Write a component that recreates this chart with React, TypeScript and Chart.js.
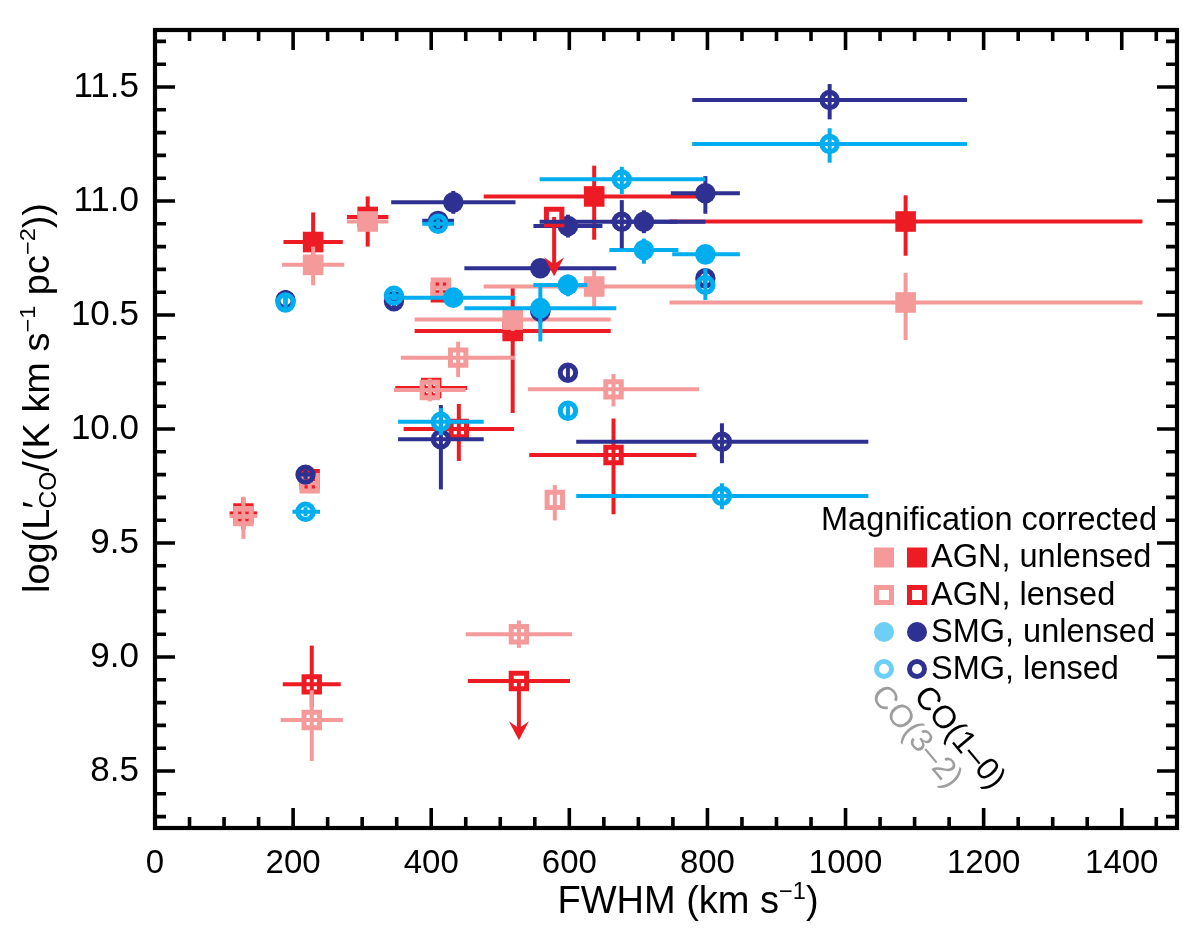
import React, { useEffect, useRef } from 'react';
import { Chart, registerables } from 'chart.js';

Chart.register(...registerables);

const FONT = "'Liberation Sans', Arial, Helvetica, sans-serif";

const X_MIN = 0;
const X_MAX = 1480;
const Y_MIN = 8.25;
const Y_MAX = 11.75;
const X_TICKS = [0, 200, 400, 600, 800, 1000, 1200, 1400];
const Y_TICKS = [8.5, 9.0, 9.5, 10.0, 10.5, 11.0, 11.5];

const RED = '#ED1C24';
const PINK = '#F49A9A';
const DARK = '#2E3192';
const LIGHT = '#00AEEF';
const LIGHT_LEGEND = '#6DCFF6';

// AGN, unlensed, CO(1-0)
const agnU10X = [229, 308, 518, 636, 1087];
const agnU10Y = [10.82, 10.93, 10.43, 11.02, 10.91];
const agnU10XLo = [43, 30, 142, 160, 342];
const agnU10XHi = [43, 30, 142, 155, 343];
const agnU10YLo = [0.13, 0.13, 0.36, 0.19, 0.15];
const agnU10YHi = [0.13, 0.09, 0.19, 0.135, 0.115];

// AGN, unlensed, CO(3-2)
const agnU32X = [229, 308, 518, 636, 1087];
const agnU32Y = [10.72, 10.91, 10.48, 10.625, 10.555];
const agnU32XLo = [45, 30, 142, 160, 342];
const agnU32XHi = [45, 30, 142, 157, 343];
const agnU32YLo = [0.09, 0.04, 0.05, 0.09, 0.165];
const agnU32YHi = [0.08, 0.04, 0.05, 0.07, 0.13];

// AGN, lensed, CO(1-0)  (lim = upper limit)
const agnL10X = [128, 224, 227, 400, 414, 440, 578, 527, 664];
const agnL10Y = [9.63, 9.78, 8.88, 10.18, 10.6, 10.0, 10.93, 8.895, 9.886];
const agnL10XLo = [20, 12, 42, 52, 10, 80, 0, 74, 122];
const agnL10XHi = [20, 12, 42, 52, 10, 80, 0, 74, 120];
const agnL10YLo = [0.07, 0.03, 0.1, 0.03, 0.03, 0.14, 0.26, 0.26, 0.26];
const agnL10YHi = [0.07, 0.03, 0.17, 0.03, 0.03, 0.11, 0, 0, 0.16];
const agnL10Lim = [0, 0, 0, 0, 0, 0, 1, 1, 0];

// AGN, lensed, CO(3-2)
const agnL32X = [128, 224, 227, 398, 414, 439, 527, 579, 664];
const agnL32Y = [9.618, 9.762, 8.724, 10.171, 10.62, 10.313, 9.1, 9.689, 10.174];
const agnL32XLo = [20, 12, 45, 52, 10, 83, 77, 0, 124];
const agnL32XHi = [20, 12, 45, 52, 10, 83, 77, 0, 124];
const agnL32YLo = [0.1, 0.03, 0.18, 0.05, 0.04, 0.085, 0.06, 0.09, 0.075];
const agnL32YHi = [0.085, 0.03, 0.13, 0.05, 0.04, 0.07, 0.06, 0.065, 0.067];

// SMG, unlensed, CO(1-0)
const smgU10X = [432, 558, 558, 598, 708, 797];
const smgU10Y = [10.994, 10.705, 10.515, 10.89, 10.909, 11.034];
const smgU10XLo = [90, 110, 0, 50, 48, 50];
const smgU10XHi = [90, 110, 0, 50, 48, 50];
const smgU10YLo = [0.05, 0.04, 0.05, 0.05, 0.05, 0.09];
const smgU10YHi = [0.05, 0.04, 0.03, 0.05, 0.05, 0.075];

// SMG, unlensed, CO(3-2)
const smgU32X = [432, 558, 598, 708, 797];
const smgU32Y = [10.576, 10.53, 10.632, 10.785, 10.766];
const smgU32XLo = [97, 110, 50, 50, 48];
const smgU32XHi = [90, 110, 28, 50, 50];
const smgU32YLo = [0.04, 0.146, 0.05, 0.06, 0.03];
const smgU32YHi = [0.04, 0.11, 0.045, 0.05, 0.03];

// SMG, lensed, CO(1-0)
const smgL10X = [189, 218, 346, 410, 414, 598, 676, 797, 821, 977];
const smgL10Y = [10.565, 9.8, 10.56, 10.913, 9.955, 10.247, 10.909, 10.661, 9.944, 11.443];
const smgL10XLo = [0, 12, 10, 23, 62, 0, 119, 0, 211, 199];
const smgL10XHi = [0, 12, 10, 23, 62, 0, 121, 0, 212, 199];
const smgL10YLo = [0.045, 0.02, 0.03, 0.03, 0.22, 0.04, 0.116, 0.04, 0.094, 0.085];
const smgL10YHi = [0.045, 0.02, 0.03, 0.03, 0.15, 0.04, 0.095, 0.04, 0.081, 0.07];

// SMG, lensed, CO(3-2)
const smgL32X = [189, 218, 346, 410, 414, 598, 676, 797, 821, 977];
const smgL32Y = [10.555, 9.637, 10.585, 10.9, 10.032, 10.08, 11.095, 10.632, 9.706, 11.25];
const smgL32XLo = [0, 19, 10, 23, 62, 0, 119, 0, 211, 199];
const smgL32XHi = [0, 21, 10, 23, 62, 0, 121, 0, 212, 199];
const smgL32YLo = [0.03, 0.02, 0.02, 0.02, 0.06, 0.03, 0.065, 0.066, 0.058, 0.082];
const smgL32YHi = [0.03, 0.02, 0.02, 0.02, 0.06, 0.03, 0.055, 0.073, 0.056, 0.069];

const LEGEND_TITLE = 'Magnification corrected';
const LEGEND_ROWS = ['AGN, unlensed', 'AGN, lensed', 'SMG, unlensed', 'SMG, lensed'];
const CO10_LABEL = 'CO(1–0)';
const CO32_LABEL = 'CO(3–2)';

function pts(x: number[], y: number[], xlo: number[], xhi: number[], ylo: number[], yhi: number[], lim?: number[]) {
  return x.map((v, i) => ({ x: v, y: y[i], xlo: xlo[i], xhi: xhi[i], ylo: ylo[i], yhi: yhi[i], lim: lim ? lim[i] : 0 }));
}

function series(label: string, data: any[], color: string, shape: 'rect' | 'circle', filled: boolean, drawIndex: number) {
  let radius: number;
  if (shape === 'rect') radius = filled ? 10.3 / Math.SQRT1_2 : 7.7 / Math.SQRT1_2;
  else radius = filled ? 10.3 : 7.7;
  return {
    label,
    data,
    errColor: color,
    order: -drawIndex,
    showLine: false,
    pointStyle: shape,
    pointRadius: radius,
    pointHoverRadius: radius,
    pointBorderWidth: filled ? 0 : 5,
    pointBackgroundColor: filled ? color : 'rgba(0,0,0,0)',
    pointBorderColor: color,
    backgroundColor: filled ? color : 'rgba(0,0,0,0)',
    borderColor: color,
  };
}

const errorBarPlugin = {
  id: 'errorBars',
  beforeDatasetDraw(chart: any, args: any) {
    const ds = chart.data.datasets[args.index];
    const ctx = chart.ctx;
    const xs = chart.scales.x;
    const ys = chart.scales.y;
    ctx.save();
    ctx.strokeStyle = ds.errColor;
    ctx.fillStyle = ds.errColor;
    ctx.lineWidth = 4;
    ctx.lineCap = 'butt';
    ds.data.forEach((p: any) => {
      const px = xs.getPixelForValue(p.x);
      const py = ys.getPixelForValue(p.y);
      if (p.xlo || p.xhi) {
        ctx.beginPath();
        ctx.moveTo(xs.getPixelForValue(p.x - p.xlo), py);
        ctx.lineTo(xs.getPixelForValue(p.x + p.xhi), py);
        ctx.stroke();
      }
      if (p.lim) {
        const tip = ys.getPixelForValue(p.y - p.ylo);
        ctx.beginPath();
        ctx.moveTo(px, py);
        ctx.lineTo(px, tip - 10);
        ctx.stroke();
        ctx.beginPath();
        ctx.moveTo(px, tip);
        ctx.lineTo(px - 10, tip - 19);
        ctx.lineTo(px, tip - 12);
        ctx.lineTo(px + 10, tip - 19);
        ctx.closePath();
        ctx.fill();
      } else if (p.ylo || p.yhi) {
        ctx.beginPath();
        ctx.moveTo(px, ys.getPixelForValue(p.y - p.ylo));
        ctx.lineTo(px, ys.getPixelForValue(p.y + p.yhi));
        ctx.stroke();
      }
    });
    ctx.restore();
  },
};

type Seg = { t: string; s?: number; dy?: number; noAdv?: boolean };

function drawRich(
  ctx: CanvasRenderingContext2D,
  segs: Seg[],
  x: number,
  y: number,
  F: number,
  align: 'left' | 'center' | 'right',
  fitWidth?: number
) {
  const widths = segs.map((sg) => {
    ctx.font = `${F * (sg.s || 1)}px ${FONT}`;
    return sg.noAdv ? 0 : ctx.measureText(sg.t).width;
  });
  const total = widths.reduce((a, b) => a + b, 0);
  const sx = fitWidth ? fitWidth / total : 1;
  ctx.save();
  ctx.translate(x, y);
  ctx.scale(sx, 1);
  let cx = align === 'left' ? 0 : align === 'center' ? -total / 2 : -total;
  ctx.textAlign = 'left';
  ctx.textBaseline = 'alphabetic';
  segs.forEach((sg, i) => {
    ctx.font = `${F * (sg.s || 1)}px ${FONT}`;
    ctx.fillText(sg.t, cx, (sg.dy || 0) * F);
    cx += widths[i];
  });
  ctx.restore();
}

function drawMarker(ctx: CanvasRenderingContext2D, x: number, y: number, shape: string, filled: boolean, color: string) {
  ctx.save();
  ctx.fillStyle = color;
  ctx.strokeStyle = color;
  ctx.lineWidth = 5;
  if (shape === 'rect') {
    if (filled) ctx.fillRect(x - 10, y - 10, 20, 20);
    else ctx.strokeRect(x - 7.5, y - 7.5, 15, 15);
  } else {
    ctx.beginPath();
    ctx.arc(x, y, filled ? 10 : 7.5, 0, Math.PI * 2);
    if (filled) ctx.fill();
    else ctx.stroke();
  }
  ctx.restore();
}

const framePlugin = {
  id: 'frame',
  afterDraw(chart: any) {
    const ctx = chart.ctx as CanvasRenderingContext2D;
    const { left, right, top, bottom } = chart.chartArea;
    const xs = chart.scales.x;
    const ys = chart.scales.y;
    ctx.save();
    ctx.strokeStyle = '#000';
    ctx.lineWidth = 3.6;
    ctx.lineCap = 'butt';
    for (let v = 0; v <= 1450; v += 50) {
      const px = xs.getPixelForValue(v);
      const len = v % 200 === 0 ? 20 : 11;
      ctx.beginPath();
      ctx.moveTo(px, bottom);
      ctx.lineTo(px, bottom - len);
      ctx.moveTo(px, top);
      ctx.lineTo(px, top + len);
      ctx.stroke();
    }
    for (let k = 83; k <= 117; k++) {
      const v = k / 10;
      const py = ys.getPixelForValue(v);
      const len = k % 5 === 0 ? 20 : 11;
      ctx.beginPath();
      ctx.moveTo(left, py);
      ctx.lineTo(left + len, py);
      ctx.moveTo(right, py);
      ctx.lineTo(right - len, py);
      ctx.stroke();
    }
    ctx.lineWidth = 4.2;
    ctx.strokeRect(left, top, right - left, bottom - top);

    // axis titles
    ctx.fillStyle = '#000';
    drawRich(ctx, [{ t: 'FWHM (km s' }, { t: '−1', s: 0.62, dy: -0.38 }, { t: ')' }], 688, 913, 38, 'center');
    ctx.save();
    ctx.translate(49, 398);
    ctx.rotate(-Math.PI / 2);
    drawRich(
      ctx,
      [
        { t: 'log(L' },
        { t: '′', noAdv: true },
        { t: 'CO', s: 0.65, dy: 0.2 },
        { t: '/(K km s' },
        { t: '−1', s: 0.62, dy: -0.38 },
        { t: ' pc' },
        { t: '−2', s: 0.62, dy: -0.38 },
        { t: '))' },
      ],
      0,
      0,
      36,
      'center',
      390
    );
    ctx.restore();

    // legend
    ctx.fillStyle = '#000';
    ctx.font = `32.5px ${FONT}`;
    ctx.textAlign = 'right';
    ctx.textBaseline = 'alphabetic';
    ctx.fillText(LEGEND_TITLE, 1157, 530);
    const rowY = [557.5, 595, 632, 669];
    const specs = [
      { shape: 'rect', filled: true, c1: PINK, c2: RED },
      { shape: 'rect', filled: false, c1: PINK, c2: RED },
      { shape: 'circle', filled: true, c1: LIGHT_LEGEND, c2: DARK },
      { shape: 'circle', filled: false, c1: LIGHT_LEGEND, c2: DARK },
    ];
    specs.forEach((sp, i) => {
      drawMarker(ctx, 884, rowY[i], sp.shape, sp.filled, sp.c1);
      drawMarker(ctx, 917, rowY[i], sp.shape, sp.filled, sp.c2);
      ctx.fillStyle = '#000';
      ctx.font = `32.5px ${FONT}`;
      ctx.textAlign = 'left';
      ctx.textBaseline = 'middle';
      ctx.fillText(LEGEND_ROWS[i], 931, rowY[i] + 1);
    });

    // CO line labels (rotated)
    const ang = (50 * Math.PI) / 180;
    ctx.font = `32px ${FONT}`;
    ctx.textAlign = 'center';
    ctx.textBaseline = 'middle';
    ctx.save();
    ctx.translate(916, 737);
    ctx.rotate(ang);
    ctx.fillStyle = '#9E9E9E';
    ctx.fillText(CO32_LABEL, 0, 0);
    ctx.restore();
    ctx.save();
    ctx.translate(959, 738);
    ctx.rotate(ang);
    ctx.fillStyle = '#000';
    ctx.fillText(CO10_LABEL, 0, 0);
    ctx.restore();

    ctx.restore();
  },
};

export default function App() {
  const ref = useRef<HTMLCanvasElement>(null);
  useEffect(() => {
    const canvas = ref.current;
    if (!canvas) return;
    const datasets = [
      series('AGN unlensed CO(1-0)', pts(agnU10X, agnU10Y, agnU10XLo, agnU10XHi, agnU10YLo, agnU10YHi), RED, 'rect', true, 0),
      series('AGN unlensed CO(3-2)', pts(agnU32X, agnU32Y, agnU32XLo, agnU32XHi, agnU32YLo, agnU32YHi), PINK, 'rect', true, 1),
      series('SMG unlensed CO(1-0)', pts(smgU10X, smgU10Y, smgU10XLo, smgU10XHi, smgU10YLo, smgU10YHi), DARK, 'circle', true, 2),
      series('AGN lensed CO(1-0)', pts(agnL10X, agnL10Y, agnL10XLo, agnL10XHi, agnL10YLo, agnL10YHi, agnL10Lim), RED, 'rect', false, 3),
      series('AGN lensed CO(3-2)', pts(agnL32X, agnL32Y, agnL32XLo, agnL32XHi, agnL32YLo, agnL32YHi), PINK, 'rect', false, 4),
      series('SMG unlensed CO(3-2)', pts(smgU32X, smgU32Y, smgU32XLo, smgU32XHi, smgU32YLo, smgU32YHi), LIGHT, 'circle', true, 5),
      series('SMG lensed CO(1-0)', pts(smgL10X, smgL10Y, smgL10XLo, smgL10XHi, smgL10YLo, smgL10YHi), DARK, 'circle', false, 6),
      series('SMG lensed CO(3-2)', pts(smgL32X, smgL32Y, smgL32XLo, smgL32XHi, smgL32YLo, smgL32YHi), LIGHT, 'circle', false, 7),
    ];
    const chart = new Chart(canvas, {
      type: 'scatter',
      data: { datasets: datasets as any },
      options: {
        responsive: false,
        devicePixelRatio: 1,
        animation: false,
        events: [],
        layout: { padding: { top: 30, right: 22, left: 0, bottom: 0 } },
        plugins: { legend: { display: false }, tooltip: { enabled: false } },
        scales: {
          x: {
            type: 'linear',
            min: X_MIN,
            max: X_MAX,
            afterBuildTicks: (s: any) => {
              s.ticks = X_TICKS.map((v) => ({ value: v }));
            },
            afterFit: (s: any) => {
              s.height = 102;
            },
            grid: { display: false },
            border: { display: false },
            ticks: {
              padding: 8,
              color: '#000',
              maxRotation: 0,
              autoSkip: false,
              font: { size: 33, family: FONT },
              callback: (v: any) => String(v),
            },
          },
          y: {
            type: 'linear',
            min: Y_MIN,
            max: Y_MAX,
            afterBuildTicks: (s: any) => {
              s.ticks = Y_TICKS.map((v) => ({ value: v }));
            },
            afterFit: (s: any) => {
              s.width = 155;
            },
            grid: { display: false },
            border: { display: false },
            ticks: {
              padding: 8,
              color: '#000',
              autoSkip: false,
              font: { size: 35, family: FONT },
              callback: (v: any) => Number(v).toFixed(1),
            },
          },
        },
      } as any,
      plugins: [errorBarPlugin, framePlugin],
    });
    return () => chart.destroy();
  }, []);
  return (
    <div style={{ position: 'absolute', left: 0, top: 0, width: 1199, height: 930, background: '#fff' }}>
      <canvas ref={ref} width={1199} height={930} style={{ display: 'block', width: 1199, height: 930 }} />
    </div>
  );
}
